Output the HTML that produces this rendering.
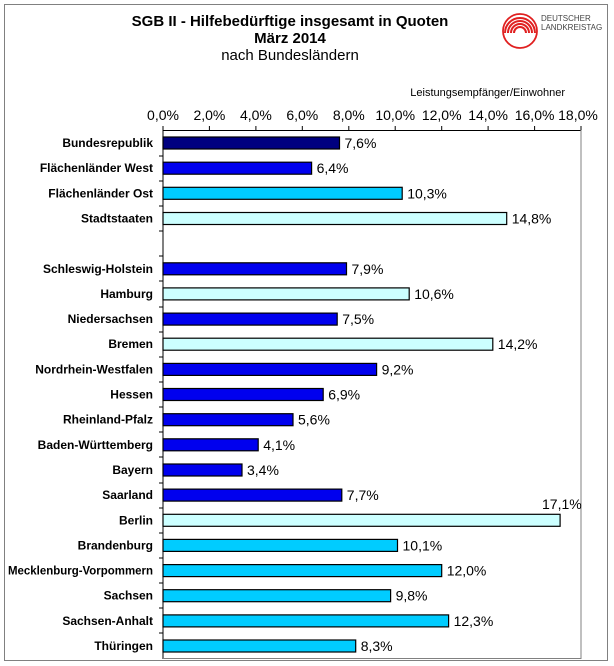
<!DOCTYPE html>
<html><head><meta charset="utf-8"><style>
body{margin:0;background:#fff;}
svg{display:block;font-family:"Liberation Sans",Arial,sans-serif;}
</style></head><body>
<svg width="614" height="666" viewBox="0 0 614 666">
<rect x="4.5" y="4.5" width="603" height="656" fill="#fff" stroke="#808080" stroke-width="1"/>
<text x="290" y="26" font-size="15" font-weight="bold" text-anchor="middle">SGB II - Hilfebedürftige insgesamt in Quoten</text>
<text x="290" y="43" font-size="15" font-weight="bold" text-anchor="middle">März 2014</text>
<text x="290" y="60" font-size="15" text-anchor="middle">nach Bundesländern</text>
<g fill="none" stroke="#e02020">
<circle cx="520" cy="31" r="17" stroke-width="1.8"/>
<path d="M505 33 A15 15 0 0 1 535 33" stroke-width="2"/>
<path d="M508 33 A12 12 0 0 1 532 33" stroke-width="2"/>
<path d="M511 33 A9 9 0 0 1 529 33" stroke-width="2"/>
<path d="M514 33 A6 6 0 0 1 526 33" stroke-width="2"/>
</g>
<text x="541" y="21" font-size="8" fill="#444">DEUTSCHER</text>
<text x="541" y="30" font-size="8" fill="#444">LANDKREISTAG</text>
<text x="565" y="96" font-size="11" text-anchor="end">Leistungsempfänger/Einwohner</text>
<g font-size="14" text-anchor="middle">
<text x="163" y="120">0,0%</text><text x="209.4" y="120">2,0%</text><text x="255.9" y="120">4,0%</text><text x="302.3" y="120">6,0%</text><text x="348.8" y="120">8,0%</text><text x="395.2" y="120">10,0%</text><text x="441.7" y="120">12,0%</text><text x="488.1" y="120">14,0%</text><text x="534.6" y="120">16,0%</text><text x="578" y="120">18,0%</text>
</g>
<g stroke="#000" stroke-width="1">
<line x1="163" y1="130.5" x2="581" y2="130.5"/>
<line x1="163" y1="130" x2="163" y2="659"/>
<line x1="163" y1="126" x2="163" y2="130"/><line x1="209.4" y1="126" x2="209.4" y2="130"/><line x1="255.9" y1="126" x2="255.9" y2="130"/><line x1="302.3" y1="126" x2="302.3" y2="130"/><line x1="348.8" y1="126" x2="348.8" y2="130"/><line x1="395.2" y1="126" x2="395.2" y2="130"/><line x1="441.7" y1="126" x2="441.7" y2="130"/><line x1="488.1" y1="126" x2="488.1" y2="130"/><line x1="534.6" y1="126" x2="534.6" y2="130"/><line x1="581" y1="126" x2="581" y2="130"/>
<line x1="159" y1="156" x2="163" y2="156"/><line x1="159" y1="181" x2="163" y2="181"/><line x1="159" y1="206" x2="163" y2="206"/><line x1="159" y1="231" x2="163" y2="231"/><line x1="159" y1="256" x2="163" y2="256"/><line x1="159" y1="281" x2="163" y2="281"/><line x1="159" y1="307" x2="163" y2="307"/><line x1="159" y1="332" x2="163" y2="332"/><line x1="159" y1="357" x2="163" y2="357"/><line x1="159" y1="382" x2="163" y2="382"/><line x1="159" y1="407" x2="163" y2="407"/><line x1="159" y1="432" x2="163" y2="432"/><line x1="159" y1="457" x2="163" y2="457"/><line x1="159" y1="483" x2="163" y2="483"/><line x1="159" y1="508" x2="163" y2="508"/><line x1="159" y1="533" x2="163" y2="533"/><line x1="159" y1="558" x2="163" y2="558"/><line x1="159" y1="583" x2="163" y2="583"/><line x1="159" y1="608" x2="163" y2="608"/><line x1="159" y1="633" x2="163" y2="633"/>
</g>
<line x1="581" y1="130" x2="581" y2="659" stroke="#808080"/>
<line x1="163" y1="658.5" x2="581" y2="658.5" stroke="#808080"/>
<g stroke="#000" stroke-width="1.2">
<rect x="163" y="137" width="176.5" height="12" fill="#000080"/>
<rect x="163" y="162.2" width="148.6" height="12" fill="#0000ee"/>
<rect x="163" y="187.3" width="239.2" height="12" fill="#00ccff"/>
<rect x="163" y="212.5" width="343.7" height="12" fill="#ccffff"/>
<rect x="163" y="262.8" width="183.5" height="12" fill="#0000ee"/>
<rect x="163" y="287.9" width="246.2" height="12" fill="#ccffff"/>
<rect x="163" y="313.1" width="174.2" height="12" fill="#0000ee"/>
<rect x="163" y="338.2" width="329.8" height="12" fill="#ccffff"/>
<rect x="163" y="363.4" width="213.6" height="12" fill="#0000ee"/>
<rect x="163" y="388.5" width="160.2" height="12" fill="#0000ee"/>
<rect x="163" y="413.7" width="130.0" height="12" fill="#0000ee"/>
<rect x="163" y="438.8" width="95.2" height="12" fill="#0000ee"/>
<rect x="163" y="464" width="79.0" height="12" fill="#0000ee"/>
<rect x="163" y="489.1" width="178.8" height="12" fill="#0000ee"/>
<rect x="163" y="514.3" width="397.1" height="12" fill="#ccffff"/>
<rect x="163" y="539.4" width="234.5" height="12" fill="#00ccff"/>
<rect x="163" y="564.6" width="278.7" height="12" fill="#00ccff"/>
<rect x="163" y="589.7" width="227.6" height="12" fill="#00ccff"/>
<rect x="163" y="614.9" width="285.6" height="12" fill="#00ccff"/>
<rect x="163" y="640" width="192.7" height="12" fill="#00ccff"/>
</g>
<g font-size="14">
<text x="344.5" y="148">7,6%</text>
<text x="316.6" y="173.2">6,4%</text>
<text x="407.2" y="198.3">10,3%</text>
<text x="511.7" y="223.5">14,8%</text>
<text x="351.5" y="273.8">7,9%</text>
<text x="414.2" y="298.9">10,6%</text>
<text x="342.2" y="324.1">7,5%</text>
<text x="497.8" y="349.2">14,2%</text>
<text x="381.6" y="374.4">9,2%</text>
<text x="328.2" y="399.5">6,9%</text>
<text x="298" y="424.7">5,6%</text>
<text x="263.2" y="449.8">4,1%</text>
<text x="247" y="475">3,4%</text>
<text x="346.8" y="500.1">7,7%</text>
<text x="542" y="509">17,1%</text>
<text x="402.5" y="550.4">10,1%</text>
<text x="446.7" y="575.6">12,0%</text>
<text x="395.6" y="600.7">9,8%</text>
<text x="453.6" y="625.9">12,3%</text>
<text x="360.7" y="651">8,3%</text>
</g>
<g font-size="12" font-weight="bold" text-anchor="end">
<text x="153" y="147">Bundesrepublik</text>
<text x="153" y="172.2">Flächenländer West</text>
<text x="153" y="197.3">Flächenländer Ost</text>
<text x="153" y="222.5">Stadtstaaten</text>
<text x="153" y="272.8">Schleswig-Holstein</text>
<text x="153" y="297.9">Hamburg</text>
<text x="153" y="323.1">Niedersachsen</text>
<text x="153" y="348.2">Bremen</text>
<text x="153" y="373.4">Nordrhein-Westfalen</text>
<text x="153" y="398.5">Hessen</text>
<text x="153" y="423.7">Rheinland-Pfalz</text>
<text x="153" y="448.8">Baden-Württemberg</text>
<text x="153" y="474">Bayern</text>
<text x="153" y="499.1">Saarland</text>
<text x="153" y="524.3">Berlin</text>
<text x="153" y="549.4">Brandenburg</text>
<text x="153" y="574.6" textLength="145" lengthAdjust="spacingAndGlyphs">Mecklenburg-Vorpommern</text>
<text x="153" y="599.7">Sachsen</text>
<text x="153" y="624.9">Sachsen-Anhalt</text>
<text x="153" y="650">Thüringen</text>
</g>
</svg>
</body></html>
